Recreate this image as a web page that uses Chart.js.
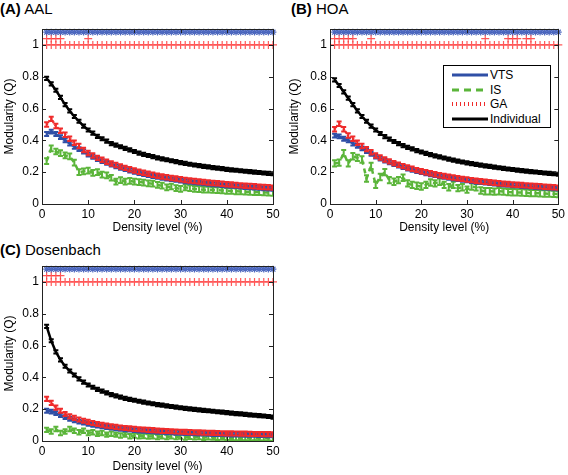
<!DOCTYPE html>
<html>
<head>
<meta charset="utf-8">
<script src="https://cdn.jsdelivr.net/npm/chart.js@4"></script>
<style>
  body { margin: 0; width: 568px; height: 475px; background: #fff; position: relative; overflow: hidden;
         font-family: "Liberation Sans", Arial, sans-serif; }
  canvas { position: absolute; }
  .ttl { position: absolute; font-size: 15px; line-height: 15px; white-space: pre; color: #000; }
  #legend { position: absolute; left: 443px; top: 65px; width: 106px; height: 61px; border: 1px solid #000; background: #fff; }
  #legend svg { position: absolute; left: 0; top: 0; }
  #legend .lt { position: absolute; left: 46px; font-size: 12px; line-height: 12px; color: #000; }
</style>
</head>
<body>
<div class="ttl" style="left:0;top:1px"><b>(A)</b> AAL</div>
<div class="ttl" style="left:291px;top:1px"><b>(B)</b> HOA</div>
<div class="ttl" style="left:0;top:242px"><b>(C)</b> Dosenbach</div>

<canvas id="chartA" width="285" height="240" style="left:0;top:0"></canvas>
<canvas id="chartB" width="283" height="240" style="left:285px;top:0"></canvas>
<canvas id="chartC" width="285" height="238" style="left:0;top:237px"></canvas>

<div id="legend">
  <svg width="106" height="61">
    <line x1="8" y1="9" x2="44" y2="9" stroke="#2f4fa6" stroke-width="3"/>
    <line x1="8" y1="24" x2="44" y2="24" stroke="#5bb53a" stroke-width="3" stroke-dasharray="7,5"/>
    <line x1="8" y1="38" x2="44" y2="38" stroke="#ef2b2b" stroke-width="4" stroke-dasharray="1,3"/>
    <line x1="8" y1="53" x2="44" y2="53" stroke="#000" stroke-width="3"/>
  </svg>
  <div class="lt" style="top:3px">VTS</div>
  <div class="lt" style="top:18px">IS</div>
  <div class="lt" style="top:32px">GA</div>
  <div class="lt" style="top:47px">Individual</div>
</div>

<script>
const density = [1,2,3,4,5,6,7,8,9,10,11,12,13,14,15,16,17,18,19,20,21,22,23,24,25,
  26,27,28,29,30,31,32,33,34,35,36,37,38,39,40,41,42,43,44,45,46,47,48,49,50];
const xTicks = [0, 10, 20, 30, 40, 50];
const yTicks = [0, 0.2, 0.4, 0.6, 0.8, 1];

// (A) AAL
const vtsA = [0.44,0.455,0.44,0.42,0.40,0.38,0.36,0.345,0.33,0.31,0.297,0.283,0.27,0.258,0.247,0.237,0.228,0.219,0.21,0.202,
  0.195,0.188,0.182,0.176,0.17,0.165,0.16,0.156,0.152,0.147,0.143,0.14,0.136,0.133,0.13,0.127,0.124,0.122,0.119,0.116,
  0.114,0.112,0.109,0.107,0.105,0.103,0.101,0.099,0.097,0.095];
const isA = [0.27,0.35,0.33,0.32,0.305,0.30,0.26,0.20,0.205,0.21,0.195,0.20,0.185,0.18,0.165,0.14,0.15,0.14,0.145,0.14,
  0.138,0.135,0.13,0.128,0.12,0.115,0.105,0.11,0.10,0.095,0.105,0.10,0.095,0.093,0.09,0.09,0.088,0.087,0.085,0.083,
  0.082,0.08,0.079,0.078,0.076,0.075,0.074,0.073,0.072,0.07];
const gaA = [0.50,0.535,0.49,0.46,0.435,0.41,0.385,0.365,0.34,0.32,0.305,0.29,0.278,0.266,0.255,0.245,0.236,0.227,0.218,0.21,
  0.203,0.196,0.19,0.184,0.178,0.173,0.168,0.164,0.16,0.155,0.151,0.148,0.144,0.141,0.138,0.135,0.132,0.13,0.127,0.124,
  0.122,0.12,0.117,0.115,0.113,0.111,0.109,0.107,0.105,0.103];
const indA = [0.79,0.755,0.715,0.67,0.625,0.585,0.55,0.52,0.49,0.465,0.445,0.425,0.41,0.395,0.38,0.37,0.36,0.35,0.34,0.33,
  0.32,0.312,0.305,0.298,0.29,0.284,0.278,0.272,0.266,0.26,0.255,0.25,0.245,0.241,0.237,0.233,0.229,0.225,0.222,0.218,
  0.215,0.212,0.209,0.206,0.203,0.2,0.198,0.195,0.193,0.19];
const gaExtraA = [1, 2, 3, 4, 10];

// (B) HOA
const vtsB = [0.43,0.425,0.41,0.40,0.38,0.365,0.35,0.333,0.315,0.298,0.285,0.273,0.262,0.251,0.241,0.232,0.223,0.215,0.207,0.2,
  0.193,0.187,0.181,0.175,0.17,0.165,0.16,0.156,0.152,0.148,0.144,0.14,0.137,0.134,0.131,0.128,0.125,0.122,0.12,0.117,
  0.115,0.113,0.111,0.109,0.107,0.105,0.103,0.101,0.099,0.097];
const isB = [0.255,0.26,0.32,0.255,0.30,0.29,0.28,0.16,0.24,0.12,0.17,0.20,0.15,0.14,0.15,0.165,0.13,0.12,0.115,0.11,
  0.12,0.135,0.13,0.14,0.12,0.105,0.12,0.10,0.105,0.09,0.11,0.105,0.085,0.08,0.08,0.078,0.08,0.078,0.075,0.074,
  0.073,0.072,0.071,0.068,0.068,0.067,0.066,0.065,0.064,0.063];
const gaB = [0.47,0.505,0.47,0.43,0.41,0.385,0.365,0.345,0.325,0.305,0.292,0.28,0.268,0.257,0.247,0.238,0.229,0.221,0.213,0.206,
  0.199,0.193,0.187,0.181,0.176,0.171,0.166,0.162,0.158,0.154,0.15,0.146,0.143,0.14,0.137,0.134,0.131,0.128,0.126,0.123,
  0.121,0.119,0.117,0.115,0.113,0.111,0.109,0.107,0.105,0.103];
const indB = [0.78,0.745,0.705,0.665,0.625,0.585,0.55,0.52,0.49,0.465,0.443,0.424,0.408,0.393,0.379,0.367,0.356,0.346,0.336,0.327,
  0.318,0.31,0.303,0.296,0.289,0.282,0.276,0.27,0.264,0.259,0.254,0.249,0.244,0.24,0.236,0.232,0.228,0.224,0.22,0.217,
  0.213,0.21,0.207,0.204,0.201,0.198,0.195,0.192,0.19,0.187];
const gaExtraB = [1, 2, 3, 4, 5, 9, 34, 39, 40, 41, 43, 44];

// (C) Dosenbach
const vtsC = [0.19,0.185,0.175,0.163,0.15,0.14,0.13,0.122,0.115,0.108,0.102,0.097,0.092,0.088,0.084,0.08,0.077,0.074,0.071,0.068,
  0.066,0.064,0.062,0.06,0.058,0.057,0.055,0.054,0.052,0.051,0.05,0.049,0.048,0.047,0.046,0.045,0.044,0.043,0.043,0.042,
  0.041,0.04,0.04,0.039,0.038,0.038,0.037,0.037,0.036,0.036];
const isC = [0.07,0.06,0.075,0.05,0.06,0.075,0.065,0.055,0.065,0.05,0.055,0.045,0.05,0.04,0.045,0.04,0.035,0.04,0.03,0.035,
  0.03,0.032,0.028,0.03,0.025,0.03,0.025,0.03,0.025,0.028,0.022,0.026,0.024,0.025,0.02,0.024,0.022,0.02,0.022,0.02,
  0.021,0.019,0.02,0.018,0.019,0.018,0.018,0.017,0.017,0.016];
const gaC = [0.265,0.24,0.21,0.19,0.17,0.155,0.145,0.135,0.127,0.12,0.113,0.107,0.102,0.097,0.093,0.089,0.085,0.082,0.079,0.076,
  0.074,0.072,0.07,0.068,0.066,0.064,0.063,0.061,0.06,0.058,0.057,0.056,0.055,0.054,0.053,0.052,0.051,0.05,0.049,0.048,
  0.048,0.047,0.046,0.046,0.045,0.044,0.044,0.043,0.043,0.042];
const indC = [0.72,0.63,0.56,0.51,0.47,0.44,0.415,0.39,0.37,0.352,0.338,0.325,0.313,0.302,0.292,0.284,0.276,0.268,0.262,0.256,
  0.25,0.244,0.239,0.234,0.229,0.225,0.221,0.217,0.213,0.209,0.205,0.202,0.199,0.196,0.193,0.19,0.187,0.184,0.181,0.178,
  0.175,0.172,0.17,0.167,0.164,0.162,0.159,0.157,0.154,0.15];
const gaExtraC = [1, 2, 3, 4];

// half-length of the error bars: VTS, IS, GA, Individual
const errA = [0.012, 0.018, 0.014, 0.01];
const errB = [0.012, 0.02, 0.014, 0.01];
const errC = [0.012, 0.014, 0.013, 0.01];

const BLUE = '#2f4fa6', GREEN = '#5bb53a', RED = '#ef2b2b', BLACK = '#000';
const FONT = '"Liberation Sans", Arial, sans-serif';

const pts = (xs, ys) => xs.map((x, i) => ({ x: x, y: ys[i] }));
const row = (xs, yv) => xs.map(x => ({ x: x, y: yv }));

const errPlugin = {
  id: 'errbars',
  afterDatasetDraw(chart, args) {
    const ds = chart.data.datasets[args.index];
    if (!ds.err) return;
    const { ctx, chartArea, scales } = chart;
    ctx.save();
    ctx.beginPath();
    ctx.rect(chartArea.left, chartArea.top, chartArea.right - chartArea.left, chartArea.bottom - chartArea.top);
    ctx.clip();
    ctx.strokeStyle = ds.borderColor;
    ctx.lineWidth = 2;
    ctx.setLineDash([]);
    ctx.beginPath();
    args.meta.data.forEach((p, j) => {
      const v = ds.data[j].y;
      const y1 = scales.y.getPixelForValue(v - ds.err);
      const y2 = scales.y.getPixelForValue(v + ds.err);
      ctx.moveTo(p.x, y1); ctx.lineTo(p.x, y2);
      ctx.moveTo(p.x - 2.5, y1); ctx.lineTo(p.x + 2.5, y1);
      ctx.moveTo(p.x - 2.5, y2); ctx.lineTo(p.x + 2.5, y2);
    });
    ctx.stroke();
    ctx.restore();
  }
};

// matlab style box with inward ticks
const boxPlugin = {
  id: 'box',
  afterDraw(chart) {
    const { ctx, chartArea: a, scales } = chart;
    ctx.save();
    ctx.strokeStyle = '#222';
    ctx.lineWidth = 1;
    ctx.strokeRect(Math.round(a.left) + 0.5, Math.round(a.top) + 0.5,
      Math.round(a.right - a.left), Math.round(a.bottom - a.top));
    ctx.beginPath();
    xTicks.forEach(v => {
      const x = Math.round(scales.x.getPixelForValue(v)) + 0.5;
      ctx.moveTo(x, a.bottom); ctx.lineTo(x, a.bottom - 4);
      ctx.moveTo(x, a.top); ctx.lineTo(x, a.top + 4);
    });
    yTicks.forEach(v => {
      const y = Math.round(scales.y.getPixelForValue(v)) + 0.5;
      ctx.moveTo(a.left, y); ctx.lineTo(a.left + 4, y);
      ctx.moveTo(a.right, y); ctx.lineTo(a.right - 4, y);
    });
    ctx.stroke();
    ctx.restore();
  }
};

function makePanel(id, vts, is, ga, ind, err, gaExtra, pad, yW, xH, titlePad) {
  const line = (label, ys, color, dash, e) => ({
    label: label, data: pts(density, ys), borderColor: color, backgroundColor: color,
    borderWidth: 2.5, borderDash: dash, pointRadius: 0, fill: false, err: e
  });
  const marks = (ys, color, style, r) => ({
    data: ys, showLine: false, borderColor: color, backgroundColor: color,
    pointStyle: style, pointRadius: r, borderWidth: 1.2, clip: false
  });
  new Chart(document.getElementById(id), {
    type: 'line',
    data: {
      datasets: [
        line('Individual', ind, BLACK, [], err[3]),
        line('GA', ga, RED, [1.5, 2], err[2]),
        line('VTS', vts, BLUE, [], err[0]),
        line('IS', is, GREEN, [5, 4], err[1]),
        marks(row(density, 1.08), 'rgba(47,79,180,0.85)', 'star', 3.4),
        marks(row(density, 1.0), 'rgba(255,60,60,0.85)', 'cross', 4),
        marks(row(gaExtra, 1.04), 'rgba(255,60,60,0.85)', 'cross', 4)
      ]
    },
    options: {
      responsive: false,
      animation: false,
      layout: { padding: pad },
      plugins: { legend: { display: false }, tooltip: { enabled: false } },
      scales: {
        x: {
          type: 'linear', min: 0, max: 50,
          afterFit: s => { s.height = xH; },
          afterBuildTicks: s => { s.ticks = xTicks.map(v => ({ value: v })); },
          grid: { display: false, drawTicks: false }, border: { display: false },
          ticks: { padding: 3, color: '#000', maxRotation: 0, font: { family: FONT, size: 12 }, callback: v => String(v) },
          title: { display: true, text: 'Density level (%)', color: '#000',
                   font: { family: FONT, size: 12 }, padding: { top: 0, bottom: titlePad } }
        },
        y: {
          min: 0, max: 1.1,
          afterFit: s => { s.width = yW; },
          afterBuildTicks: s => { s.ticks = yTicks.map(v => ({ value: v })); },
          grid: { display: false, drawTicks: false }, border: { display: false },
          ticks: { padding: 3, color: '#000', font: { family: FONT, size: 12 }, callback: v => String(v) },
          title: { display: true, text: 'Modularity (Q)', color: '#000',
                   font: { family: FONT, size: 12 }, padding: { top: 2, bottom: 0 } }
        }
      }
    },
    plugins: [errPlugin, boxPlugin]
  });
}

makePanel('chartA', vtsA, isA, gaA, indA, errA, gaExtraA, { left: 0, top: 29, right: 12, bottom: 0 }, 42, 36, 4.8);
makePanel('chartB', vtsB, isB, gaB, indB, errB, gaExtraB, { left: 0, top: 29, right: 8, bottom: 0 }, 45, 36, 4.8);
makePanel('chartC', vtsC, isC, gaC, indC, errC, gaExtraC, { left: 0, top: 29, right: 12, bottom: 0 }, 42, 34, 0.8);
</script>
</body>
</html>
